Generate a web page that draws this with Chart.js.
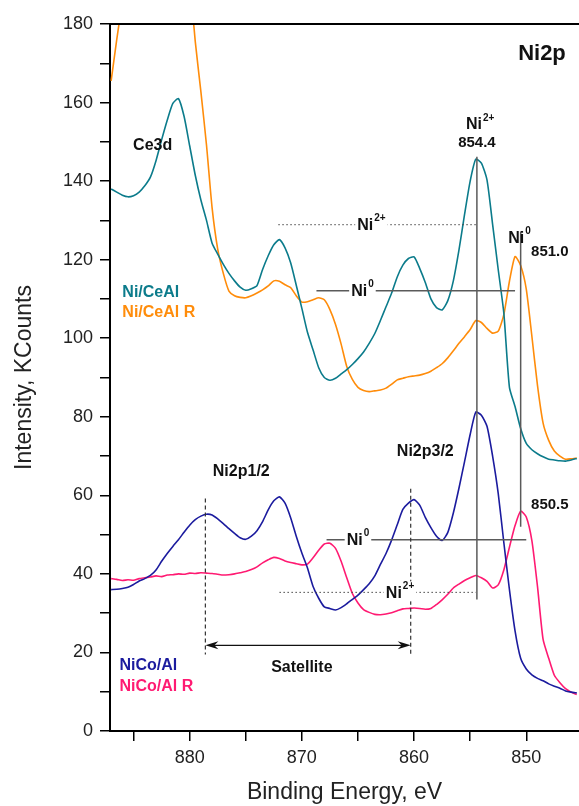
<!DOCTYPE html>
<html>
<head>
<meta charset="utf-8">
<script src="https://cdn.jsdelivr.net/npm/chart.js@4.4.0/dist/chart.umd.min.js"></script>
<style>
  html, body { margin: 0; padding: 0; background: #fff; }
  canvas { display: block; }
</style>
</head>
<body>
<canvas id="xps" width="579" height="806"></canvas>
<script>
// Ni2p XPS spectra, binding energy in eV (descending), intensity in KCounts
const energies = [
  887.0, 886.5, 886.0, 885.5, 885.0, 884.5, 884.0, 883.5, 883.0, 882.5,
  882.0, 881.5, 881.0, 880.5, 880.0, 879.5, 879.0, 878.5, 878.0, 877.5,
  877.0, 876.5, 876.0, 875.5, 875.0, 874.5, 874.0, 873.5, 873.0, 872.5,
  872.0, 871.5, 871.0, 870.5, 870.0, 869.5, 869.0, 868.5, 868.0, 867.5,
  867.0, 866.5, 866.0, 865.5, 865.0, 864.5, 864.0, 863.5, 863.0, 862.5,
  862.0, 861.5, 861.0, 860.5, 860.0, 859.5, 859.0, 858.5, 858.0, 857.5,
  857.0, 856.5, 856.0, 855.5, 855.0, 854.5, 854.0, 853.5, 853.0, 852.5,
  852.0, 851.5, 851.0, 850.5, 850.0, 849.5, 849.0, 848.5, 848.0, 847.5,
  847.0, 846.5, 846.0, 845.5
];

const niCeAl = [
  138.0, 137.2, 136.4, 136.0, 136.3, 137.2, 138.8, 141.0, 145.2, 150.5,
  155.5, 159.8, 161.0, 156.5, 149.0, 141.5, 135.2, 130.0, 124.2, 121.4,
  118.8, 116.5, 114.6, 113.0, 112.2, 112.6, 113.4, 117.5, 121.0, 123.8,
  125.1, 123.0, 119.2, 113.5, 107.6, 101.5, 97.0, 92.5, 90.0, 89.3,
  89.8, 90.9, 92.0, 93.3, 94.8, 96.5, 98.7, 101.2, 104.5, 108.0,
  111.5, 115.6, 118.6, 120.3, 120.7, 117.8, 114.2, 110.0, 107.8, 107.2,
  109.5, 114.6, 122.4, 131.5, 140.0, 145.6, 144.6, 140.3, 129.0, 117.5,
  106.4, 87.5, 82.6, 77.0, 73.2, 71.6, 70.6, 69.8, 69.2, 69.0,
  68.8, 68.7, 69.0, 69.4
];

const niCeAlR = [
  165.5, 176.0, 186.0, 198.0, 212.0, 225.0, 236.0, 244.0, 248.0, 249.0,
  246.0, 240.0, 228.0, 212.0, 192.0, 175.5, 162.8, 149.2, 133.2, 122.7,
  116.5, 112.0, 110.8, 110.4, 110.3, 110.8, 111.5, 112.3, 113.3, 114.6,
  114.5, 113.6, 112.9, 110.8, 109.2, 109.3, 109.8, 110.3, 109.8, 107.3,
  103.5, 98.5, 92.8, 89.5, 87.5, 86.7, 86.4, 86.6, 86.8, 87.3,
  88.3, 89.4, 89.8, 90.2, 90.4, 90.6, 91.0, 91.6, 92.5, 93.5,
  95.0, 96.8, 98.7, 100.4, 102.2, 104.5, 104.0, 102.5, 101.3, 101.8,
  106.0, 114.5, 120.8, 118.5, 112.5, 100.5, 88.0, 78.4, 74.0, 71.3,
  70.0, 69.2, 69.3, 69.5
];

const niCoAl = [
  36.0, 36.1, 36.3, 36.6, 37.3, 38.2, 38.8, 39.6, 41.0, 43.2,
  45.2, 47.0, 48.7, 50.6, 52.4, 53.8, 54.7, 55.2, 55.0, 54.0,
  52.8, 51.5, 50.3, 49.2, 48.8, 49.6, 51.0, 53.3, 56.3, 58.6,
  59.6, 58.0, 54.3, 49.6, 45.3, 41.5, 36.8, 33.8, 31.6, 31.2,
  30.8, 31.4, 32.4, 33.5, 34.6, 36.0, 37.5, 39.5, 42.4, 45.2,
  48.6, 52.5, 56.4, 58.0, 58.9, 57.5, 54.4, 51.8, 49.6, 48.5,
  50.5, 55.5, 61.8, 68.6, 75.5, 81.2, 80.4, 77.6, 70.0, 60.5,
  48.0, 36.0, 25.5, 18.5, 15.8, 14.3, 13.4, 12.8, 12.0, 11.4,
  10.9, 10.2, 9.9, 9.7
];

const niCoAlR = [
  38.8, 38.6, 38.3, 38.5, 38.4, 38.8, 39.0, 39.2, 39.5, 39.3,
  39.7, 39.8, 40.0, 39.9, 40.2, 40.1, 40.3, 40.2, 40.1, 39.9,
  39.7, 39.8, 40.0, 40.3, 40.6, 41.1, 41.8, 42.8, 43.6, 44.2,
  43.9, 43.3, 42.9, 42.6, 42.3, 42.5, 44.1, 46.0, 47.6, 47.8,
  46.5, 43.2, 39.0, 35.0, 32.6, 30.9, 30.2, 29.7, 29.6, 29.8,
  30.1, 30.6, 31.1, 31.2, 31.3, 31.2, 31.0, 31.2, 32.2, 33.4,
  34.8, 36.4, 37.4, 38.3, 39.0, 39.6, 39.0, 38.1, 36.4, 37.2,
  41.0, 46.8, 52.3, 56.0, 54.5, 48.5, 36.8, 23.3, 18.5, 14.2,
  12.3, 10.8, 9.9, 9.3
];

const xLabels = [880, 870, 860, 850];
const yLabels = [0, 20, 40, 60, 80, 100, 120, 140, 160, 180];

const seriesNames = ['Ni/CeAl', 'Ni/CeAl R', 'NiCo/Al', 'NiCo/Al R'];
const seriesColors = ['#0b7b8b', '#ff8c0a', '#1b1b9e', '#ff1a72'];
const seriesValues = [niCeAl, niCeAlR, niCoAl, niCoAlR];

const FONT = '"Liberation Sans", Arial, sans-serif';
const INK = '#111';

// peak labels, reference lines and the coloured sample names
const notes = {
  id: 'notes',
  afterDatasetsDraw(chart) {
    const { ctx, chartArea, scales: { x, y } } = chart;
    const px = e => x.getPixelForValue(e);
    const py = v => y.getPixelForValue(v);

    ctx.save();

    // frame line along the top
    ctx.strokeStyle = '#000';
    ctx.lineWidth = 2;
    ctx.beginPath();
    ctx.moveTo(chartArea.left, chartArea.top);
    ctx.lineTo(chartArea.right, chartArea.top);
    ctx.stroke();

    const seg = (e1, v1, e2, v2, color, width, dash) => {
      ctx.strokeStyle = color;
      ctx.lineWidth = width;
      ctx.setLineDash(dash || []);
      ctx.beginPath();
      ctx.moveTo(px(e1), py(v1));
      ctx.lineTo(px(e2), py(v2));
      ctx.stroke();
      ctx.setLineDash([]);
    };

    // Ni2+ main line and Ni0 line
    seg(854.4, 146.2, 854.4, 33.5, '#5a5a5a', 1.5);
    seg(850.5, 127.2, 850.5, 52.0, '#5a5a5a', 1.5);
    // Ni2+ satellite levels (dotted)
    seg(872.1, 128.9, 854.4, 128.9, '#444', 1, [1.5, 2.5]);
    seg(872.0, 35.3, 854.5, 35.3, '#444', 1, [1.5, 2.5]);
    // Ni0 levels
    seg(868.7, 112.1, 851.0, 112.1, '#5a5a5a', 1.5);
    seg(867.8, 48.7, 850.0, 48.7, '#5a5a5a', 1.5);
    // satellite markers
    seg(878.6, 59.2, 878.6, 19.5, '#333', 1.2, [4, 3]);
    seg(860.3, 61.7, 860.3, 19.0, '#333', 1.2, [4, 3]);

    // double arrow between the satellites
    const ay = py(21.8), a1 = px(878.6), a2 = px(860.3);
    ctx.strokeStyle = '#111';
    ctx.fillStyle = '#111';
    ctx.lineWidth = 1.2;
    ctx.beginPath();
    ctx.moveTo(a1 + 6, ay);
    ctx.lineTo(a2 - 6, ay);
    ctx.stroke();
    [[a1, 1], [a2, -1]].forEach(([tip, dir]) => {
      ctx.beginPath();
      ctx.moveTo(tip, ay);
      ctx.lineTo(tip + dir * 13, ay - 4);
      ctx.lineTo(tip + dir * 9, ay);
      ctx.lineTo(tip + dir * 13, ay + 4);
      ctx.closePath();
      ctx.fill();
    });

    const text = (str, e, v, size, color, align) => {
      ctx.font = 'bold ' + size + 'px ' + FONT;
      ctx.fillStyle = color || INK;
      ctx.textAlign = align || 'center';
      ctx.textBaseline = 'middle';
      ctx.fillText(str, px(e), py(v));
    };

    // ion label with superscript, optional white box behind it
    const ion = (base, sup, e, v, boxed) => {
      ctx.font = 'bold 16px ' + FONT;
      const wb = ctx.measureText(base).width;
      ctx.font = 'bold 10px ' + FONT;
      const ws = ctx.measureText(sup).width;
      const cx = px(e), cy = py(v);
      const x0 = cx - (wb + ws + 1) / 2;
      if (boxed) {
        ctx.fillStyle = '#fff';
        ctx.fillRect(x0 - 2, cy - 11, wb + ws + 5, 20);
      }
      ctx.fillStyle = INK;
      ctx.textAlign = 'left';
      ctx.textBaseline = 'middle';
      ctx.font = 'bold 16px ' + FONT;
      ctx.fillText(base, x0, cy + 1);
      ctx.font = 'bold 10px ' + FONT;
      ctx.fillText(sup, x0 + wb + 1, cy - 6);
    };

    text('Ni2p', 848.6, 172.4, 22);
    text('Ce3d', 883.3, 149.0, 16);
    ion('Ni', '2+', 854.1, 154.6, false);
    text('854.4', 854.4, 149.7, 15);
    ion('Ni', '0', 850.6, 125.6, false);
    text('851.0', 847.9, 122.0, 15);
    ion('Ni', '2+', 863.8, 128.9, true);
    ion('Ni', '0', 864.6, 112.1, true);
    ion('Ni', '0', 865.0, 48.7, true);
    ion('Ni', '2+', 861.25, 35.3, true);
    text('Ni2p1/2', 875.4, 66.0, 16);
    text('Ni2p3/2', 859.0, 71.1, 16);
    text('850.5', 847.9, 57.6, 15);
    text('Satellite', 870.0, 16.2, 16);

    // sample names in their line colours
    text(seriesNames[0], 886.0, 111.6, 16, seriesColors[0], 'left');
    text(seriesNames[1], 886.0, 106.5, 16, seriesColors[1], 'left');
    text(seriesNames[2], 886.25, 16.7, 16, seriesColors[2], 'left');
    text(seriesNames[3], 886.25, 11.3, 16, seriesColors[3], 'left');

    ctx.restore();
  }
};

const datasets = seriesValues.map((vals, i) => ({
  label: seriesNames[i],
  data: energies.map((e, k) => ({ x: e, y: vals[k] })),
  borderColor: seriesColors[i],
  borderWidth: 1.6,
  pointRadius: 0,
  tension: 0.2,
  fill: false
}));

new Chart(document.getElementById('xps'), {
  type: 'line',
  data: { datasets },
  options: {
    responsive: false,
    animation: false,
    devicePixelRatio: 1,
    layout: { padding: { top: 24, right: 0, left: 0, bottom: 0 } },
    plugins: { legend: { display: false }, tooltip: { enabled: false } },
    scales: {
      x: {
        type: 'linear',
        reverse: true,
        min: 845.3,
        max: 887.1,
        afterFit: s => { s.height = 75; },
        border: { color: '#000', width: 2 },
        grid: { drawOnChartArea: false, drawTicks: true, tickLength: 10, color: '#000', lineWidth: 1.5 },
        ticks: {
          stepSize: 5,
          includeBounds: false,
          autoSkip: false,
          maxRotation: 0,
          padding: 6,
          color: '#222',
          font: { family: FONT, size: 18 },
          callback: v => (xLabels.includes(v) ? String(v) : '')
        },
        title: {
          display: true,
          text: 'Binding Energy, eV',
          color: '#222',
          font: { family: FONT, size: 23 },
          padding: { top: 8, bottom: 0 }
        }
      },
      y: {
        min: 0,
        max: 180,
        afterFit: s => { s.width = 110; },
        border: { color: '#000', width: 2 },
        grid: { drawOnChartArea: false, drawTicks: true, tickLength: 10, color: '#000', lineWidth: 1.5 },
        ticks: {
          stepSize: 10,
          autoSkip: false,
          padding: 7,
          color: '#222',
          font: { family: FONT, size: 18 },
          callback: v => (yLabels.includes(v) ? String(v) : '')
        },
        title: {
          display: true,
          text: 'Intensity, KCounts',
          color: '#222',
          font: { family: FONT, size: 23 },
          padding: { top: 11, bottom: 0 }
        }
      }
    }
  },
  plugins: [notes]
});
</script>
</body>
</html>
